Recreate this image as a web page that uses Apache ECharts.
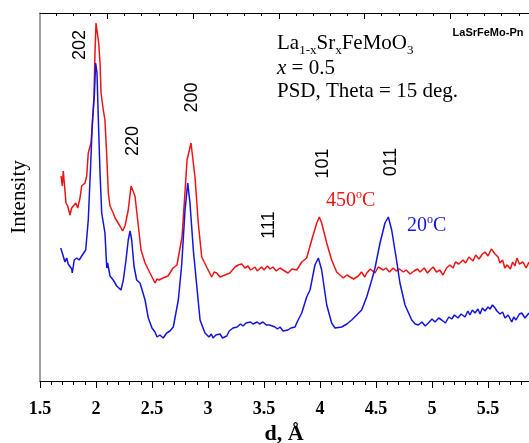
<!DOCTYPE html>
<html><head><meta charset="utf-8">
<script src="https://cdn.jsdelivr.net/npm/echarts@6/dist/echarts.min.js"></script>
<style>html,body{margin:0;padding:0;background:#fff;overflow:hidden}#c{width:529px;height:443px}</style>
</head><body><div id="c"></div><script>
// d (Å) tick labels on the bottom axis
const dTicks = ['1.5','2','2.5','3','3.5','4','4.5','5','5.5'];
// Peak (hkl) labels
const peakLabels = ['202','220','200','111','101','011'];
// 450 °C curve: [d, intensity]
const curve450C = [
[1.688,205],[1.699,195],[1.708,210],[1.723,208],[1.732,178],[1.747,175],[1.768,166],[1.783,173],[1.797,171],[1.819,178],[1.837,173],[1.857,183],[1.872,195],[1.902,198],[1.917,205],[1.931,228],[1.955,238],[1.967,255],[1.982,285],[1.991,328],[2.000,358],[2.015,360],[2.024,338],[2.036,318],[2.045,288],[2.065,271],[2.080,261],[2.096,225],[2.110,188],[2.125,175],[2.154,168],[2.170,163],[2.185,161],[2.214,155],[2.238,150],[2.259,155],[2.288,171],[2.313,195],[2.328,196],[2.348,185],[2.372,161],[2.402,131],[2.438,118],[2.482,108],[2.527,98],[2.545,102],[2.563,101],[2.598,103],[2.643,105],[2.688,113],[2.723,116],[2.768,144],[2.790,181],[2.813,221],[2.848,238],[2.884,204],[2.913,158],[2.944,124],[2.988,114],[3.033,104],[3.055,109],[3.078,108],[3.107,104],[3.152,106],[3.196,108],[3.241,114],[3.270,116],[3.301,117],[3.330,113],[3.357,115],[3.380,111],[3.420,114],[3.440,110],[3.479,114],[3.500,111],[3.530,115],[3.554,112],[3.580,114],[3.610,110],[3.643,113],[3.670,111],[3.714,108],[3.750,112],[3.792,111],[3.837,119],[3.881,123],[3.926,141],[3.971,158],[3.994,164],[4.015,158],[4.060,138],[4.104,121],[4.149,109],[4.208,103],[4.240,106],[4.268,104],[4.300,102],[4.342,105],[4.370,109],[4.400,104],[4.417,108],[4.450,112],[4.491,108],[4.520,114],[4.565,111],[4.590,113],[4.620,109],[4.654,113],[4.680,110],[4.710,112],[4.744,109],[4.770,111],[4.804,107],[4.840,110],[4.870,112],[4.893,109],[4.930,113],[4.960,108],[4.982,111],[5.010,114],[5.040,109],[5.070,111],[5.098,106],[5.130,113],[5.160,116],[5.188,113],[5.210,119],[5.240,117],[5.277,121],[5.300,118],[5.330,124],[5.366,120],[5.390,126],[5.420,122],[5.450,127],[5.473,129],[5.500,125],[5.530,132],[5.563,127],[5.590,124],[5.607,118],[5.630,121],[5.650,113],[5.670,116],[5.700,112],[5.720,119],[5.740,115],[5.759,123],[5.780,117],[5.813,119],[5.840,113],[5.866,119]
];
// 20 °C curve: [d, intensity]
const curve20C = [
[1.685,133],[1.699,128],[1.708,130],[1.723,119],[1.738,123],[1.752,117],[1.768,115],[1.783,112],[1.788,108],[1.806,121],[1.828,123],[1.850,121],[1.872,125],[1.908,131],[1.931,161],[1.953,218],[1.967,258],[1.985,285],[1.997,318],[2.009,308],[2.021,261],[2.036,208],[2.051,168],[2.080,148],[2.096,113],[2.104,118],[2.125,105],[2.154,101],[2.185,95],[2.223,91],[2.244,101],[2.268,121],[2.288,141],[2.304,150],[2.319,141],[2.339,115],[2.363,101],[2.393,98],[2.408,97],[2.438,81],[2.467,63],[2.500,53],[2.527,49],[2.545,44],[2.571,46],[2.600,43],[2.631,48],[2.660,50],[2.690,54],[2.735,81],[2.765,116],[2.795,171],[2.819,198],[2.839,178],[2.869,131],[2.899,96],[2.929,61],[2.973,48],[3.009,44],[3.030,47],[3.045,43],[3.070,46],[3.080,44],[3.107,47],[3.130,43],[3.167,45],[3.190,50],[3.223,53],[3.260,54],[3.290,57],[3.313,55],[3.340,58],[3.357,57],[3.380,59],[3.402,57],[3.440,59],[3.460,57],[3.491,59],[3.520,56],[3.550,56],[3.598,54],[3.620,52],[3.643,54],[3.670,50],[3.714,51],[3.740,53],[3.777,54],[3.800,60],[3.837,68],[3.881,84],[3.911,91],[3.955,116],[3.985,123],[4.015,111],[4.060,76],[4.104,58],[4.134,53],[4.194,54],[4.240,57],[4.283,61],[4.328,66],[4.372,71],[4.417,84],[4.462,101],[4.491,113],[4.536,138],[4.580,158],[4.610,164],[4.640,151],[4.679,124],[4.714,98],[4.759,76],[4.819,61],[4.850,57],[4.878,56],[4.910,59],[4.940,55],[4.967,58],[5.000,62],[5.027,59],[5.060,63],[5.087,61],[5.120,58],[5.150,64],[5.176,62],[5.200,66],[5.232,63],[5.260,67],[5.295,64],[5.320,70],[5.339,66],[5.360,71],[5.384,68],[5.410,72],[5.429,67],[5.450,73],[5.473,70],[5.500,74],[5.518,72],[5.540,76],[5.563,73],[5.580,70],[5.607,67],[5.630,69],[5.652,63],[5.680,66],[5.712,59],[5.730,64],[5.750,61],[5.780,67],[5.801,68],[5.830,63],[5.866,68]
];

const SERIF = '"Liberation Serif","Times New Roman",serif';
const SANS = '"Liberation Sans",Arial,sans-serif';
const RED = '#ee1414';
const BLUE = '#1414e0';

// decorative top axis ticks (unit = one minor step)
const topMajor = [], topMinor = [];
for (let k = -3; k <= 25; k++) {
  const v = +(3.93 + k).toFixed(2);
  (k % 5 === 0 ? topMajor : topMinor).push(v);
}

const chart = echarts.init(document.getElementById('c'), null, {renderer: 'canvas'});

function peak(text, x, y) {
  return {type: 'text', x: x, y: y, rotation: Math.PI / 2, z: 10,
    style: {text: text, fill: '#000', font: '18px ' + SANS, align: 'center', verticalAlign: 'middle'}};
}

chart.setOption({
  animation: false,
  backgroundColor: '#fff',
  grid: {left: 40, right: -15, top: 13, bottom: 62, containLabel: false, outerBoundsMode: 'none'},
  xAxis: [
    {type: 'value', position: 'bottom', min: 1.5, max: 6.0, interval: 0.5,
      axisLine: {show: true, lineStyle: {color: '#000', width: 1}},
      axisTick: {show: true, inside: false, length: 7, lineStyle: {color: '#000', width: 1}},
      minorTick: {show: true, splitNumber: 5, length: 4, lineStyle: {color: '#000', width: 1}},
      splitLine: {show: false}, minorSplitLine: {show: false},
      axisLabel: {show: true, margin: 19, showMaxLabel: false, color: '#000', fontFamily: SERIF, fontSize: 18, fontWeight: 'bold',
        formatter: function (v) { const s = String(+v.toFixed(1)); return dTicks.indexOf(s) >= 0 ? s : ''; }},
      name: 'd, Å', nameLocation: 'middle', nameGap: 38,
      nameTextStyle: {color: '#000', fontFamily: SERIF, fontSize: 22, fontWeight: 'bold', padding: [0, 16, 0, 0]}
    },
    {type: 'value', position: 'top', min: 0, max: 29.4,
      axisLine: {show: true, onZero: false, lineStyle: {color: '#000', width: 1}},
      axisTick: {show: true, inside: true, length: 6, customValues: topMajor, lineStyle: {color: '#000', width: 1}},
      axisLabel: {show: false}, splitLine: {show: false}
    },
    {type: 'value', position: 'top', min: 0, max: 29.4,
      axisLine: {show: false, onZero: false},
      axisTick: {show: true, inside: true, length: 3, customValues: topMinor, lineStyle: {color: '#000', width: 1}},
      axisLabel: {show: false}, splitLine: {show: false}
    }
  ],
  yAxis: {type: 'value', min: 0, max: 368,
    axisLine: {show: true, lineStyle: {color: '#8a8a8a', width: 1.6}},
    axisTick: {show: false}, axisLabel: {show: false}, splitLine: {show: false},
    name: 'Intensity', nameLocation: 'middle', nameGap: 10, nameRotate: 90,
    nameTextStyle: {color: '#000', fontFamily: SERIF, fontSize: 21}
  },
  series: [
    {type: 'line', name: '450ºC', data: curve450C, xAxisIndex: 0, showSymbol: false, symbol: 'none',
      lineStyle: {color: RED, width: 1.5}, itemStyle: {color: RED}, z: 3},
    {type: 'line', name: '20ºC', data: curve20C, xAxisIndex: 0, showSymbol: false, symbol: 'none',
      lineStyle: {color: BLUE, width: 1.5}, itemStyle: {color: BLUE}, z: 4}
  ],
  graphic: [
    peak(peakLabels[0], 80.5, 45),
    peak(peakLabels[1], 133.5, 141),
    peak(peakLabels[2], 192.5, 97.5),
    peak(peakLabels[3], 269, 225),
    peak(peakLabels[4], 323.5, 163.5),
    peak(peakLabels[5], 391.5, 162),
    {type: 'text', x: 277, y: 29, z: 10, style: {
      text: '{n|La}{s|1-x}{n|Sr}{s|x}{n|FeMoO}{s|3}', align: 'left', verticalAlign: 'top', fill: '#000',
      rich: {n: {fontFamily: SERIF, fontSize: 21, lineHeight: 28, fill: '#000'},
             s: {fontFamily: SERIF, fontSize: 13, lineHeight: 13, verticalAlign: 'bottom', fill: '#000'}}}},
    {type: 'text', x: 277, y: 68, z: 10, style: {
      text: '{i|x}{n| = 0.5}', align: 'left', verticalAlign: 'middle', fill: '#000',
      rich: {i: {fontFamily: SERIF, fontSize: 21, fontStyle: 'italic', fill: '#000'},
             n: {fontFamily: SERIF, fontSize: 21, fill: '#000'}}}},
    {type: 'text', x: 277, y: 91, z: 10, style: {
      text: 'PSD, Theta = 15 deg.', align: 'left', verticalAlign: 'middle', fill: '#000',
      font: '21px ' + SERIF}},
    {type: 'text', x: 488, y: 32.5, z: 10, style: {
      text: 'LaSrFeMo-Pn', align: 'center', verticalAlign: 'middle', fill: '#000',
      font: 'bold 11px ' + SANS}},
    {type: 'text', x: 326, y: 189, z: 10, style: {
      text: '{n|450}{p|o}{n|C}', align: 'left', verticalAlign: 'top', fill: RED,
      rich: {n: {fontFamily: SERIF, fontSize: 20, lineHeight: 24, fill: RED},
             p: {fontFamily: SERIF, fontSize: 12, lineHeight: 20, verticalAlign: 'top', fill: RED}}}},
    {type: 'text', x: 407, y: 214, z: 10, style: {
      text: '{n|20}{p|o}{n|C}', align: 'left', verticalAlign: 'top', fill: BLUE,
      rich: {n: {fontFamily: SERIF, fontSize: 20, lineHeight: 24, fill: BLUE},
             p: {fontFamily: SERIF, fontSize: 12, lineHeight: 20, verticalAlign: 'top', fill: BLUE}}}}
  ]
});
</script></body></html>
